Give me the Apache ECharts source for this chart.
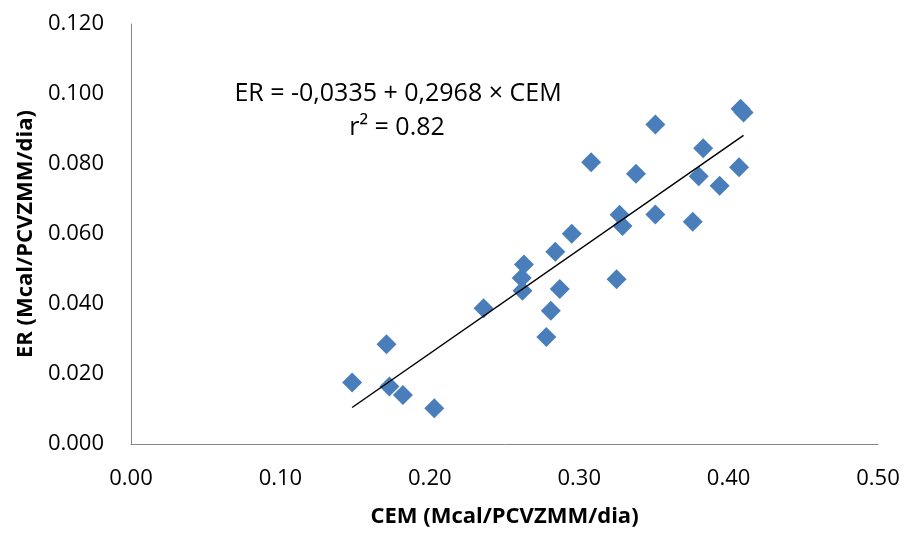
<!DOCTYPE html>
<html>
<head>
<meta charset="utf-8">
<script src="https://cdn.jsdelivr.net/npm/echarts@6/dist/echarts.min.js"></script>
<style>
html,body{margin:0;padding:0;background:#fff;}
#chart{width:906px;height:533px;}
</style>
</head>
<body>
<div id="chart"></div>
<script>
// Data
const cemValues = [0.148, 0.171, 0.173, 0.182, 0.203, 0.236, 0.263, 0.2615, 0.262, 0.284, 0.295, 0.287, 0.281, 0.278,
  0.308, 0.338, 0.327, 0.329, 0.325, 0.351, 0.383, 0.408, 0.410, 0.380, 0.407, 0.394, 0.351, 0.376];
const erValues = [0.0176, 0.0285, 0.0164, 0.0140, 0.0102, 0.0388, 0.0513, 0.0474, 0.0438, 0.0549, 0.0601, 0.0443, 0.0381, 0.0306,
  0.0805, 0.0772, 0.0655, 0.0623, 0.0471, 0.0913, 0.0845, 0.0958, 0.0947, 0.0765, 0.0791, 0.0738, 0.0656, 0.0635];
const intercept = -0.0335;
const slope = 0.2968;
const xTicks = [0.00, 0.10, 0.20, 0.30, 0.40, 0.50];
const yTicks = [0.000, 0.020, 0.040, 0.060, 0.080, 0.100, 0.120];
const xTitle = 'CEM (Mcal/PCVZMM/dia)';
const yTitle = 'ER (Mcal/PCVZMM/dia)';
const eqText = 'ER = -0,0335 + 0,2968 × CEM';
const r2Text = 'r² = 0.82';

const points = cemValues.map((x, i) => [x, erValues[i]]);
const xMin = Math.min(...cemValues), xMax = Math.max(...cemValues);
const trend = [[xMin, intercept + slope * xMin], [xMax, intercept + slope * xMax]];

const chart = echarts.init(document.getElementById('chart'), null, {renderer: 'canvas'});
const font = '"Open Sans", sans-serif';
chart.setOption({
  animation: false,
  backgroundColor: '#fff',
  grid: {left: 131, right: 28, top: 24, bottom: 86, containLabel: false},
  xAxis: {
    type: 'value', min: xTicks[0], max: xTicks[xTicks.length - 1], interval: 0.1,
    axisLine: {show: true, lineStyle: {color: '#868686', width: 1}},
    axisTick: {show: false},
    splitLine: {show: false},
    axisLabel: {color: '#000', fontFamily: font, fontSize: 22, margin: 24,
      formatter: v => v.toFixed(2)},
    name: xTitle, nameLocation: 'middle', nameGap: 62,
    nameTextStyle: {color: '#000', fontFamily: font, fontSize: 22, fontWeight: 'bold'}
  },
  yAxis: {
    type: 'value', min: yTicks[0], max: yTicks[yTicks.length - 1], interval: 0.02,
    axisLine: {show: true, lineStyle: {color: '#868686', width: 1}},
    axisTick: {show: false},
    splitLine: {show: false},
    axisLabel: {color: '#000', fontFamily: font, fontSize: 22, margin: 27,
      formatter: v => v.toFixed(3)},
    name: yTitle, nameLocation: 'middle', nameGap: 75, nameRotate: 90,
    nameTextStyle: {color: '#000', fontFamily: font, fontSize: 22, fontWeight: 'bold'}
  },
  series: [
    {
      type: 'line', data: trend, symbol: 'none', silent: true,
      lineStyle: {color: '#000', width: 1.5}, z: 3
    },
    {
      type: 'scatter', data: points, symbol: 'diamond', symbolSize: [20, 20],
      itemStyle: {color: '#4A7EBB', opacity: 1}, z: 2
    }
  ],
  graphic: [
    {type: 'text', x: 398, y: 94, style: {text: eqText, fill: '#000', font: '25px "Open Sans", sans-serif', align: 'center', verticalAlign: 'middle', textAlign: 'center', textVerticalAlign: 'middle'}},
    {type: 'text', x: 397, y: 128, style: {text: r2Text, fill: '#000', font: '25px "Open Sans", sans-serif', align: 'center', verticalAlign: 'middle', textAlign: 'center', textVerticalAlign: 'middle'}}
  ]
});
</script>
</body>
</html>
